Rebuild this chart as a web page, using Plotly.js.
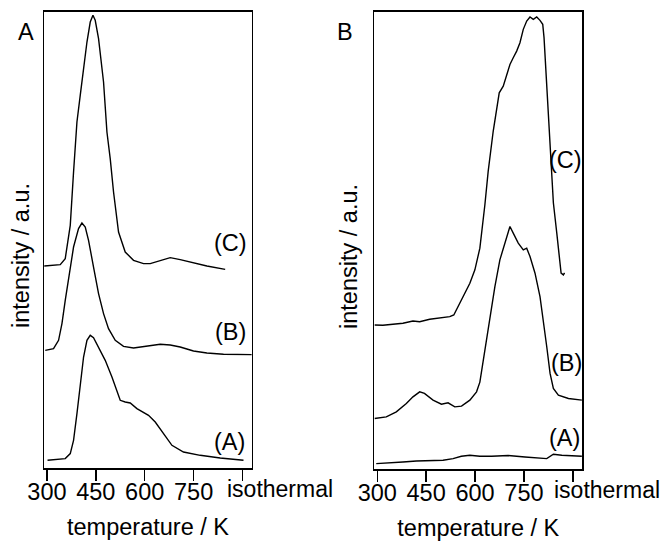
<!DOCTYPE html>
<html>
<head>
<meta charset="utf-8">
<script src="https://cdn.plot.ly/plotly-3.0.1.min.js"></script>
<style>html,body{margin:0;padding:0;background:#fff;}#chart{width:665px;height:545px;}</style>
</head>
<body>
<div id="chart"></div>
<script>
// Tick labels (the last tick, "isothermal", is drawn as a right-shifted label below)
var tickVals = [300, 450, 600, 750, 900];
var tickText = ['300', '450', '600', '750', ''];
var isoLabel = 'isothermal';

// Panel A, curve (C)
var aC_T = [291.7, 340.8, 356.1, 371.5, 381.6, 392, 402.1, 412.3, 422.7, 432.8, 441.1, 448.1, 458.3, 473.6, 484, 494.1, 504.3, 519.6, 540.1, 565.6, 596.3, 616.8, 647.5, 678.2, 708.8, 749.6, 790.7, 846.8];
var aC_I = [202.3, 203.7, 209.7, 243, 296.3, 346.3, 373, 399.7, 426.3, 446.3, 453, 448, 429.7, 386.3, 336.3, 309.7, 276.3, 236.3, 216.3, 208, 204.7, 204.7, 208, 210.7, 208.7, 205.7, 202.3, 199];

// Panel A, curve (B)
var aB_T = [294.8, 320.2, 335.6, 346, 356.1, 369.3, 381.6, 396.9, 407.3, 417.5, 427.6, 442.9, 458.3, 473.6, 488.9, 509.5, 534.9, 565.6, 586.1, 616.8, 647.5, 678.2, 708.8, 749.6, 790.7, 841.6, 928];
var aB_I = [118, 119.7, 128, 144.7, 168, 198, 221.3, 239.7, 245.3, 241.3, 228, 201.3, 174.7, 154.7, 139.7, 128, 122, 120.3, 121.3, 122.3, 124, 123.3, 121.3, 117.3, 115.3, 114, 113.7];

// Panel A, curve (A)
var aA_T = [301.8, 330.7, 356.1, 371.5, 381.6, 392, 402.1, 412.3, 422.7, 432.8, 442.9, 458.3, 478.8, 499.4, 514.7, 524.8, 540.1, 555.5, 576, 596.3, 611.6, 632.2, 657.6, 683.4, 718.9, 770.2, 831.5, 903];
var aA_I = [8, 8.7, 9.7, 14.7, 28, 54.7, 84.7, 111.3, 128, 133, 130.7, 121.3, 108, 91.3, 78, 68, 66.3, 65.3, 59.7, 56.3, 53, 46.3, 34.7, 23, 16.3, 13, 10.3, 8];

// Panel B, curve (C)
var bC_T = [291.7, 317.2, 348, 378.8, 409.5, 430.2, 460.9, 491.7, 522.5, 534.8, 548, 563.4, 584.1, 599.5, 609.6, 614.8, 630.2, 640.3, 655.7, 666.2, 674.2, 686.5, 697, 707.1, 717.2, 727.7, 737.8, 748, 758.5, 768.6, 778.7, 789.2, 799.3, 807.7, 811.7, 820, 830.2, 840.3, 850.8, 860.9, 864, 871, 874.7];
var bC_I = [144, 143.7, 144.7, 145.7, 148, 147.3, 149.7, 151, 152.3, 154, 162.3, 172.3, 185.7, 199, 212.3, 220.7, 264, 297.3, 337.3, 360.7, 375.7, 382.3, 392.3, 404, 410.7, 417.3, 425.7, 439, 447.3, 451.3, 449, 451.3, 448, 444, 430.7, 380.7, 324, 266, 235.7, 209, 195.7, 194, 196];

// Panel B, curve (B)
var bB_T = [291.7, 327.7, 358.5, 389.2, 409.5, 430.2, 444.8, 471.1, 496.9, 517.2, 537.9, 558.5, 584.1, 604.6, 614.8, 630.2, 645.6, 660.9, 676.2, 691.6, 707.1, 717.2, 732.6, 748, 758.5, 768.6, 784, 799.3, 809.5, 820, 830.2, 840.3, 855.7, 886.5, 927.7];
var bB_I = [50.7, 52.3, 57.3, 65.7, 72.3, 77.3, 75.7, 69, 65, 66.3, 62.3, 63, 69, 77.3, 87, 119, 152.3, 182.3, 209, 225.7, 242.3, 235.7, 225.7, 219, 220.7, 212.3, 195.7, 172.3, 149, 122.3, 95.7, 80.7, 74, 70.7, 69];

// Panel B, curve (A)
var bA_T = [296.9, 337.8, 378.8, 420, 460.9, 501.9, 532.6, 557.9, 584.1, 614.8, 650.8, 701.9, 753.2, 804.6, 820, 840.3, 866.2, 927.7];
var bA_I = [5.7, 6.3, 7.3, 8.3, 9, 9, 10.7, 13, 14, 13, 13, 13.7, 12.3, 10.7, 10.7, 15, 14, 13];

var lineStyle = {color: '#000', width: 1.4};
function tr(x, y, xa, ya) {
  return {x: x, y: y, xaxis: xa, yaxis: ya, type: 'scatter', mode: 'lines', line: lineStyle, showlegend: false, hoverinfo: 'skip'};
}
var data = [
  tr(aC_T, aC_I, 'x', 'y'), tr(aB_T, aB_I, 'x', 'y'), tr(aA_T, aA_I, 'x', 'y'),
  tr(bC_T, bC_I, 'x2', 'y2'), tr(bB_T, bB_I, 'x2', 'y2'), tr(bA_T, bA_I, 'x2', 'y2')
];

var font = {family: 'Arial, "Liberation Sans", sans-serif', size: 23.5, color: '#000'};
var isoFont = {family: 'Arial, "Liberation Sans", sans-serif', size: 23, color: '#000'};
function xax(domain, anchor) {
  return {
    domain: domain, anchor: anchor, range: [291, 929],
    tickmode: 'array', tickvals: tickVals, ticktext: tickText, tickangle: 0,
    ticks: 'outside', ticklen: 11, tickwidth: 1.5, tickcolor: '#000',
    ticklabelstandoff: -9,
    showline: true, mirror: true, linecolor: '#000', linewidth: 1.3,
    showgrid: false, zeroline: false, tickfont: font, automargin: false,
    title: {text: 'temperature / K', font: font, standoff: 14}
  };
}
function yax(domain, anchor) {
  return {
    domain: domain, anchor: anchor, range: [0, 456.6],
    showticklabels: false, ticks: '',
    showline: true, mirror: true, linecolor: '#000', linewidth: 1.3,
    showgrid: false, zeroline: false, automargin: false
  };
}
function ann(text, x, y, angle) {
  return {text: text, x: x, y: y, xref: 'paper', yref: 'paper', showarrow: false, font: font, xanchor: 'center', yanchor: 'middle', textangle: angle || 0};
}
function isoAnn(xref, yref, shift) {
  return {text: isoLabel, x: tickVals[4], y: 0, xref: xref, yref: yref + ' domain', xanchor: 'center', yanchor: 'middle', xshift: shift, yshift: -21, showarrow: false, font: isoFont};
}
var layout = {
  width: 665, height: 545,
  margin: {l: 0, r: 0, t: 0, b: 0},
  paper_bgcolor: '#fff', plot_bgcolor: '#fff',
  font: font,
  xaxis: xax([0.0662, 0.3789], 'y'),
  yaxis: yax([0.1407, 0.9785], 'x'),
  xaxis2: xax([0.5629, 0.8756], 'y2'),
  yaxis2: yax([0.1389, 0.9785], 'x2'),
  annotations: [
    isoAnn('x', 'y', 37), isoAnn('x2', 'y2', 34),
    ann('intensity / a.u.', 0.0316, 0.5303, -90), ann('intensity / a.u.', 0.5248, 0.5303, -90),
    ann('A', 0.0391, 0.9413), ann('B', 0.5195, 0.9413),
    ann('(C)', 0.3459, 0.5541), ann('(B)', 0.3459, 0.3908), ann('(A)', 0.3444, 0.189),
    ann('(C)', 0.8511, 0.7064), ann('(B)', 0.8526, 0.3339), ann('(A)', 0.8496, 0.1963)
  ]
};
Plotly.newPlot('chart', data, layout, {displayModeBar: false, staticPlot: true});
</script>
</body>
</html>
